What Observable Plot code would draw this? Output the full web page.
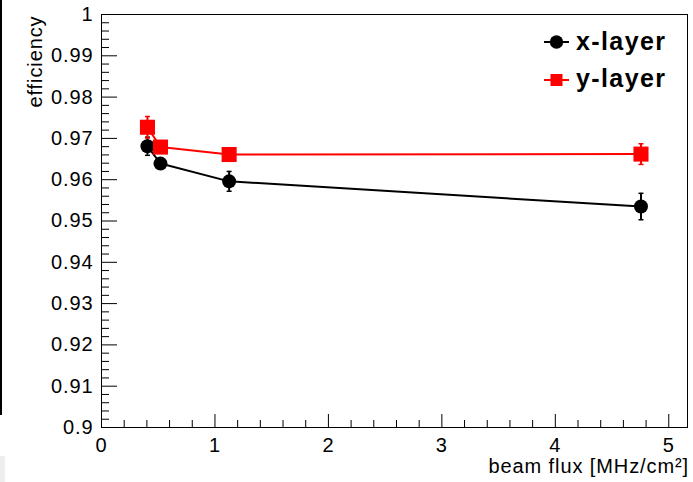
<!DOCTYPE html>
<html><head><meta charset="utf-8">
<script src="https://cdn.jsdelivr.net/npm/d3@7"></script>
<script src="https://cdn.jsdelivr.net/npm/@observablehq/plot@0.6"></script>
<style>
html,body{margin:0;padding:0;background:#fff;}
#wrap{position:relative;width:693px;height:482px;overflow:hidden;background:#fff;}
#chart svg text{letter-spacing:0.9px;}
#legend{position:absolute;left:0;top:0;pointer-events:none;}
#legend text{font:bold 25px "Liberation Sans",Arial,sans-serif;letter-spacing:1.4px;}
#edge{position:absolute;left:0;top:0;width:2px;height:415px;background:#000;}
#edge2{position:absolute;left:0;top:456px;width:5px;height:26px;background:#eee;}
</style></head>
<body>
<div id="wrap"><div id="chart"></div><div id="edge"></div><div id="edge2"></div>
<svg id="legend" width="693" height="482">
  <line x1="544" y1="42" x2="569" y2="42" stroke="#000" stroke-width="2"/>
  <circle cx="556.5" cy="42" r="6.7" fill="#000"/>
  <text x="576" y="50">x-layer</text>
  <line x1="544" y1="80" x2="569" y2="80" stroke="#f00" stroke-width="2"/>
  <rect x="550.5" y="74" width="12" height="12" fill="#f00"/>
  <text x="576" y="87">y-layer</text>
</svg>
</div>
<script>
// data
const beamFlux   = [0.405, 0.52, 1.125, 4.755];
const xLayerEff  = [0.9681, 0.9639, 0.9596, 0.9535];
const xLayerErr  = [0.0022, 0.0012, 0.0024, 0.0032];
const yLayerEff  = [0.9727, 0.9679, 0.9661, 0.9662];
const yLayerErr  = [0.0026, 0.0012, 0.0014, 0.0025];
const seriesNames = ["x-layer", "y-layer"];
const yTickLabels = [0.9, 0.91, 0.92, 0.93, 0.94, 0.95, 0.96, 0.97, 0.98, 0.99, 1];
const xTickLabels = [0, 1, 2, 3, 4, 5];
const xTitle = "beam flux [MHz/cm²]";
const yTitle = "efficiency";

const xRows = beamFlux.map((x, i) => ({series: seriesNames[0], x, eff: xLayerEff[i], err: xLayerErr[i]}));
const yRows = beamFlux.map((x, i) => ({series: seriesNames[1], x, eff: yLayerEff[i], err: yLayerErr[i]}));

const W = 693, H = 482, mL = 101, mT = 14, mR = 6, mB = 55;
const innerW = W - mL - mR, innerH = H - mT - mB;
const xMax = 5.165;
const yMinor = d3.range(0, 51).map(i => +(0.9 + i * 0.002).toFixed(3)).filter(v => Math.round(v * 1000) % 10 !== 0);
const xMinor = d3.range(0, 26).map(i => +(i * 0.2).toFixed(1)).filter(v => v <= xMax && Math.round(v * 10) % 10 !== 0);

const cap = {draw(ctx) { ctx.moveTo(-2.5, 0); ctx.lineTo(2.5, 0); }};
const colors = {"x-layer": "#000000", "y-layer": "#ff0000"};

function seriesMarks(rows, isSquare) {
  const c = colors[rows[0].series];
  return [
    Plot.line(rows, {x: "x", y: "eff", stroke: c, strokeWidth: 2}),
    Plot.ruleX(rows, {x: "x", y1: d => d.eff - d.err, y2: d => d.eff + d.err, stroke: c, strokeWidth: 2}),
    Plot.dot(rows, {x: "x", y: d => d.eff - d.err, symbol: cap, stroke: c, fill: "none", strokeWidth: 1.5}),
    Plot.dot(rows, {x: "x", y: d => d.eff + d.err, symbol: cap, stroke: c, fill: "none", strokeWidth: 1.5}),
    isSquare
      ? Plot.dot(rows, {x: "x", y: "eff", symbol: "square", r: 8.5, fill: c, stroke: null})
      : Plot.dot(rows, {x: "x", y: "eff", symbol: "circle", r: 7, fill: c, stroke: null})
  ];
}

const chart = Plot.plot({
  width: W, height: H,
  marginLeft: mL, marginTop: mT, marginRight: mR, marginBottom: mB,
  x: {domain: [0, xMax], label: null},
  y: {domain: [0.9, 1], label: null},
  style: {fontFamily: '"Liberation Sans", Arial, sans-serif', fontSize: "20px", background: "white", color: "black"},
  marks: [
    Plot.tickY(yMinor, {y: d => d, insetRight: innerW - 8, stroke: "black"}),
    Plot.tickY(yTickLabels, {y: d => d, insetRight: innerW - 16, stroke: "black"}),
    Plot.tickX(xMinor, {x: d => d, insetTop: innerH - 7, stroke: "black"}),
    Plot.tickX(xTickLabels, {x: d => d, insetTop: innerH - 13, stroke: "black"}),
    Plot.axisY(yTickLabels, {tickSize: 0, tickPadding: 8, tickFormat: d => String(d), fill: "black"}),
    Plot.axisX(xTickLabels, {tickSize: 0, tickPadding: 10, tickFormat: d => String(d), fill: "black"}),
    Plot.frame({stroke: "black"}),
    Plot.text([xTitle], {text: d => d, frameAnchor: "bottom-right", textAnchor: "end", lineAnchor: "middle", dx: 1.5, dy: 39, fill: "black"}),
    Plot.text([yTitle], {text: d => d, frameAnchor: "top-left", rotate: -90, textAnchor: "end", lineAnchor: "middle", dx: -66, dy: 1, fill: "black"}),
    ...seriesMarks(xRows, false),
    ...seriesMarks(yRows, true)
  ]
});
document.getElementById("chart").appendChild(chart);
</script>
</body></html>
